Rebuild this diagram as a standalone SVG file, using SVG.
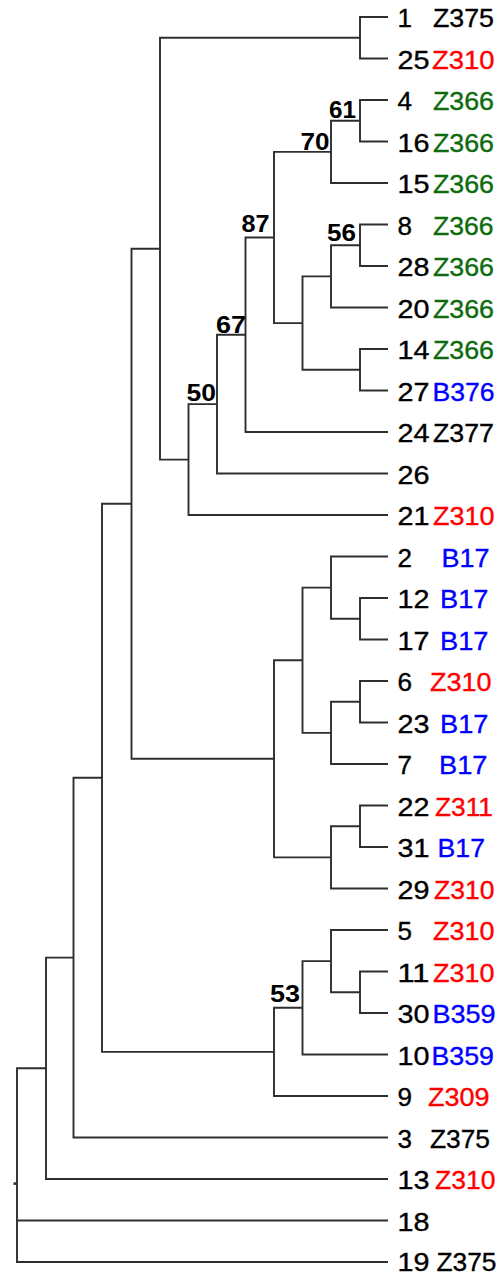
<svg xmlns="http://www.w3.org/2000/svg" width="502" height="1273" viewBox="0 0 502 1273">
<style>
.e{fill:none;stroke:#2e2e2e;stroke-width:1.9;stroke-linejoin:miter;stroke-linecap:butt}
text{font-family:"Liberation Sans",Arial,sans-serif}
.n{font-size:25px;fill:#000;stroke:#000;stroke-width:0.35}
.l{font-size:25px;stroke-width:0.35}
.k{fill:#000;stroke:#000}.r{fill:#ff0000;stroke:#ff0000}.g{fill:#0d6b0d;stroke:#0d6b0d}.b{fill:#0000ff;stroke:#0000ff}
.bs{font-size:24px;font-weight:bold;fill:#000;text-anchor:end}
</style>
<rect width="502" height="1273" fill="#fff"/>
<g id="connectors" class="e">
<path d="M388 17 H360 V58.5 H388"/>
<path d="M388 100 H360 V141.5 H388"/>
<path d="M360 120.75 H331 V183 H388"/>
<path d="M388 224.5 H360 V266 H388"/>
<path d="M360 245.25 H331 V307.5 H388"/>
<path d="M388 349 H360 V390.5 H388"/>
<path d="M331 276.4 H302.5 V369.75 H360"/>
<path d="M331 151.9 H274 V323.1 H302.5"/>
<path d="M274 237.5 H245.5 V432 H388"/>
<path d="M245.5 334.75 H217 V473.5 H388"/>
<path d="M217 404.1 H188.5 V515 H388"/>
<path d="M360 37.75 H160 V459.6 H188.5"/>
<path d="M388 598 H360 V639.5 H388"/>
<path d="M388 556.5 H331 V618.75 H360"/>
<path d="M388 681 H360 V722.5 H388"/>
<path d="M360 701.75 H331 V764 H388"/>
<path d="M331 587.6 H302.5 V732.9 H331"/>
<path d="M388 805.5 H360 V847 H388"/>
<path d="M360 826.25 H331 V888.5 H388"/>
<path d="M302.5 660.25 H274 V857.4 H331"/>
<path d="M160 248.7 H131.5 V758.8 H274"/>
<path d="M388 971.5 H360 V1013 H388"/>
<path d="M388 930 H331 V992.25 H360"/>
<path d="M331 961.1 H302.5 V1054.5 H388"/>
<path d="M302.5 1007.8 H274 V1096 H388"/>
<path d="M131.5 503.75 H102 V1051.9 H274"/>
<path d="M102 777.8 H73.5 V1137.5 H388"/>
<path d="M73.5 957.65 H46 V1179 H388"/>
<path d="M46 1068.3 H17 V1262 H388 M17 1220.5 H388"/>
<path d="M13.5 1183.6 H17.5" stroke-width="2.6"/>
</g>
<g id="node-61"><text class="bs" x="356" y="118" textLength="27" lengthAdjust="spacingAndGlyphs">61</text></g>
<g id="node-70"><text class="bs" x="329.5" y="149.5" textLength="29" lengthAdjust="spacingAndGlyphs">70</text></g>
<g id="node-87"><text class="bs" x="269.5" y="232.3" textLength="28" lengthAdjust="spacingAndGlyphs">87</text></g>
<g id="node-56"><text class="bs" x="356" y="240.7" textLength="29" lengthAdjust="spacingAndGlyphs">56</text></g>
<g id="node-67"><text class="bs" x="246" y="332.5" textLength="30" lengthAdjust="spacingAndGlyphs">67</text></g>
<g id="node-50"><text class="bs" x="216" y="401" textLength="29.5" lengthAdjust="spacingAndGlyphs">50</text></g>
<g id="node-53"><text class="bs" x="300" y="1001.7" textLength="30" lengthAdjust="spacingAndGlyphs">53</text></g>
<g id="leaf-1"><text class="n" x="397.5" y="27" textLength="14.5" lengthAdjust="spacingAndGlyphs">1</text><text class="l k" x="433" y="27" textLength="61" lengthAdjust="spacingAndGlyphs">Z375</text></g>
<g id="leaf-25"><text class="n" x="397.5" y="68.5" textLength="32" lengthAdjust="spacingAndGlyphs">25</text><text class="l r" x="432" y="68.5" textLength="62.5" lengthAdjust="spacingAndGlyphs">Z310</text></g>
<g id="leaf-4"><text class="n" x="397.5" y="110" textLength="14.5" lengthAdjust="spacingAndGlyphs">4</text><text class="l g" x="433" y="110" textLength="61" lengthAdjust="spacingAndGlyphs">Z366</text></g>
<g id="leaf-16"><text class="n" x="397.5" y="151.5" textLength="32" lengthAdjust="spacingAndGlyphs">16</text><text class="l g" x="433" y="151.5" textLength="61" lengthAdjust="spacingAndGlyphs">Z366</text></g>
<g id="leaf-15"><text class="n" x="397.5" y="193" textLength="32" lengthAdjust="spacingAndGlyphs">15</text><text class="l g" x="433" y="193" textLength="61" lengthAdjust="spacingAndGlyphs">Z366</text></g>
<g id="leaf-8"><text class="n" x="397.5" y="234.5" textLength="14.5" lengthAdjust="spacingAndGlyphs">8</text><text class="l g" x="433" y="234.5" textLength="60.5" lengthAdjust="spacingAndGlyphs">Z366</text></g>
<g id="leaf-28"><text class="n" x="397.5" y="276" textLength="32" lengthAdjust="spacingAndGlyphs">28</text><text class="l g" x="433" y="276" textLength="61" lengthAdjust="spacingAndGlyphs">Z366</text></g>
<g id="leaf-20"><text class="n" x="397.5" y="317.5" textLength="32" lengthAdjust="spacingAndGlyphs">20</text><text class="l g" x="433" y="317.5" textLength="61" lengthAdjust="spacingAndGlyphs">Z366</text></g>
<g id="leaf-14"><text class="n" x="397.5" y="359" textLength="32" lengthAdjust="spacingAndGlyphs">14</text><text class="l g" x="433" y="359" textLength="61" lengthAdjust="spacingAndGlyphs">Z366</text></g>
<g id="leaf-27"><text class="n" x="397.5" y="400.5" textLength="32" lengthAdjust="spacingAndGlyphs">27</text><text class="l b" x="432.5" y="400.5" textLength="62" lengthAdjust="spacingAndGlyphs">B376</text></g>
<g id="leaf-24"><text class="n" x="397.5" y="442" textLength="32" lengthAdjust="spacingAndGlyphs">24</text><text class="l k" x="433" y="442" textLength="61" lengthAdjust="spacingAndGlyphs">Z377</text></g>
<g id="leaf-26"><text class="n" x="397.5" y="483.5" textLength="32" lengthAdjust="spacingAndGlyphs">26</text></g>
<g id="leaf-21"><text class="n" x="397.5" y="525" textLength="32" lengthAdjust="spacingAndGlyphs">21</text><text class="l r" x="433" y="525" textLength="61.5" lengthAdjust="spacingAndGlyphs">Z310</text></g>
<g id="leaf-2"><text class="n" x="397.5" y="566.5" textLength="14.5" lengthAdjust="spacingAndGlyphs">2</text><text class="l b" x="441.5" y="566.5" textLength="48" lengthAdjust="spacingAndGlyphs">B17</text></g>
<g id="leaf-12"><text class="n" x="397.5" y="608" textLength="32" lengthAdjust="spacingAndGlyphs">12</text><text class="l b" x="440" y="608" textLength="48.5" lengthAdjust="spacingAndGlyphs">B17</text></g>
<g id="leaf-17"><text class="n" x="397.5" y="649.5" textLength="32" lengthAdjust="spacingAndGlyphs">17</text><text class="l b" x="440" y="649.5" textLength="48.5" lengthAdjust="spacingAndGlyphs">B17</text></g>
<g id="leaf-6"><text class="n" x="397.5" y="691" textLength="14.5" lengthAdjust="spacingAndGlyphs">6</text><text class="l r" x="430" y="691" textLength="61.5" lengthAdjust="spacingAndGlyphs">Z310</text></g>
<g id="leaf-23"><text class="n" x="397.5" y="732.5" textLength="32" lengthAdjust="spacingAndGlyphs">23</text><text class="l b" x="440" y="732.5" textLength="48.5" lengthAdjust="spacingAndGlyphs">B17</text></g>
<g id="leaf-7"><text class="n" x="397.5" y="774" textLength="14.5" lengthAdjust="spacingAndGlyphs">7</text><text class="l b" x="439" y="774" textLength="48.5" lengthAdjust="spacingAndGlyphs">B17</text></g>
<g id="leaf-22"><text class="n" x="397.5" y="815.5" textLength="32" lengthAdjust="spacingAndGlyphs">22</text><text class="l r" x="435" y="815.5" textLength="58" lengthAdjust="spacingAndGlyphs">Z311</text></g>
<g id="leaf-31"><text class="n" x="397.5" y="857" textLength="32" lengthAdjust="spacingAndGlyphs">31</text><text class="l b" x="437.5" y="857" textLength="47.5" lengthAdjust="spacingAndGlyphs">B17</text></g>
<g id="leaf-29"><text class="n" x="397.5" y="898.5" textLength="32" lengthAdjust="spacingAndGlyphs">29</text><text class="l r" x="434" y="898.5" textLength="60.5" lengthAdjust="spacingAndGlyphs">Z310</text></g>
<g id="leaf-5"><text class="n" x="397.5" y="940" textLength="14.5" lengthAdjust="spacingAndGlyphs">5</text><text class="l r" x="433" y="940" textLength="61.5" lengthAdjust="spacingAndGlyphs">Z310</text></g>
<g id="leaf-11"><text class="n" x="397.5" y="981.5" textLength="32" lengthAdjust="spacingAndGlyphs">11</text><text class="l r" x="433" y="981.5" textLength="61.5" lengthAdjust="spacingAndGlyphs">Z310</text></g>
<g id="leaf-30"><text class="n" x="397.5" y="1023" textLength="32" lengthAdjust="spacingAndGlyphs">30</text><text class="l b" x="432.5" y="1023" textLength="63" lengthAdjust="spacingAndGlyphs">B359</text></g>
<g id="leaf-10"><text class="n" x="397.5" y="1064.5" textLength="32" lengthAdjust="spacingAndGlyphs">10</text><text class="l b" x="431.5" y="1064.5" textLength="62.5" lengthAdjust="spacingAndGlyphs">B359</text></g>
<g id="leaf-9"><text class="n" x="397.5" y="1106" textLength="14.5" lengthAdjust="spacingAndGlyphs">9</text><text class="l r" x="428" y="1106" textLength="61.5" lengthAdjust="spacingAndGlyphs">Z309</text></g>
<g id="leaf-3"><text class="n" x="397.5" y="1147.5" textLength="14.5" lengthAdjust="spacingAndGlyphs">3</text><text class="l k" x="430" y="1147.5" textLength="60" lengthAdjust="spacingAndGlyphs">Z375</text></g>
<g id="leaf-13"><text class="n" x="397.5" y="1189" textLength="32" lengthAdjust="spacingAndGlyphs">13</text><text class="l r" x="435" y="1189" textLength="60.5" lengthAdjust="spacingAndGlyphs">Z310</text></g>
<g id="leaf-18"><text class="n" x="397.5" y="1230.5" textLength="32" lengthAdjust="spacingAndGlyphs">18</text></g>
<g id="leaf-19"><text class="n" x="397.5" y="1270.5" textLength="32" lengthAdjust="spacingAndGlyphs">19</text><text class="l k" x="436.5" y="1270.5" textLength="60" lengthAdjust="spacingAndGlyphs">Z375</text></g>
</svg>
